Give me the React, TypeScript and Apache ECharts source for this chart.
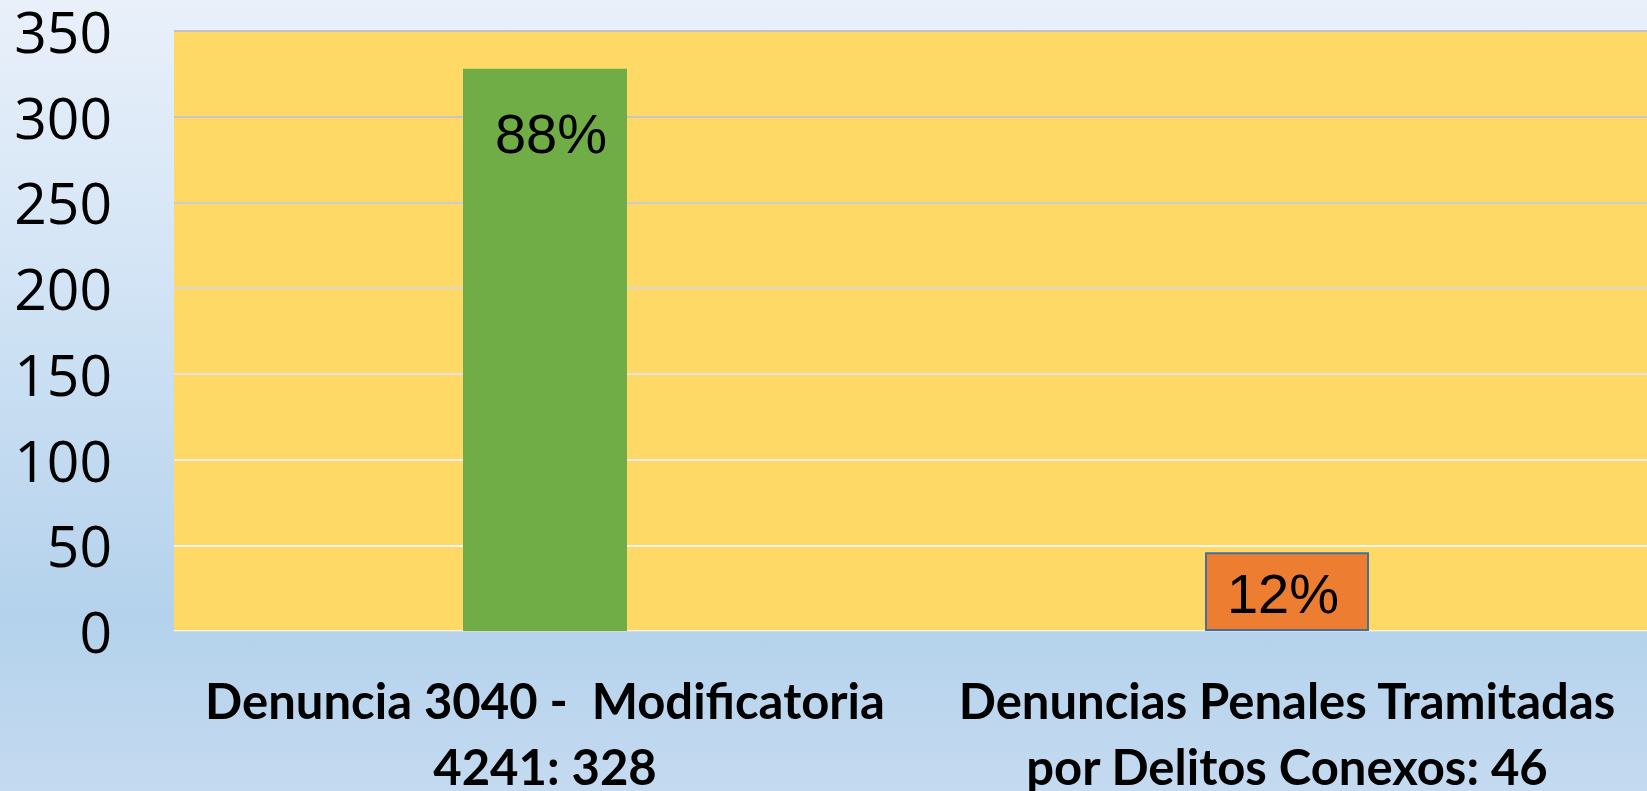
import React, { useEffect, useRef } from "react";
import * as echarts from "echarts";

const categories = [
  "Denuncia 3040 -  Modificatoria\n4241: 328",
  "Denuncias Penales Tramitadas\npor Delitos Conexos: 46",
];
const values = [328, 46];
const percentLabels = ["88%", "12%"];
const barColors = ["#70AD47", "#ED7D31"];
const yTicks = { min: 0, max: 350, interval: 50 };
const gridLineColors = ["#f4f4f4", "#f4f4f4", "#ececec", "#e2e2e2", "#d8d8d8", "#cccccc", "#c6c6c6", "#c2c2c2"];

const catFont = { fontFamily: "Lato", fontWeight: "bold", fontSize: 49, color: "#000" };

export default function App() {
  const ref = useRef<HTMLDivElement>(null);
  useEffect(() => {
    document.body.style.margin = "0";
    const chart = echarts.init(ref.current!, undefined, { renderer: "svg" });
    chart.setOption({
      animation: false,
      backgroundColor: "transparent",
      grid: {
        left: 174,
        top: 31,
        right: -11,
        bottom: 160,
        containLabel: false,
        outerBoundsMode: "none",
        show: true,
        backgroundColor: "#FFD966",
        borderWidth: 0,
      },
      xAxis: {
        type: "category",
        data: categories,
        axisLine: { show: true, lineStyle: { color: "#d9d9d9", width: 1 } },
        axisTick: { show: false },
        axisLabel: {
          interval: 0,
          margin: 28,
          ...catFont,
          formatter: (v: string) => {
            const [l1, l2] = v.split("\n");
            return `{a|${l1}}\n{b|${l2}}`;
          },
          rich: {
            a: { ...catFont, lineHeight: 82 },
            b: { ...catFont, lineHeight: 50 },
          },
        },
      },
      yAxis: {
        type: "value",
        min: yTicks.min,
        max: yTicks.max,
        interval: yTicks.interval,
        axisLine: { show: false },
        axisTick: { show: false },
        axisLabel: {
          margin: 62,
          color: "#000",
          fontFamily: "Open Sans",
          fontSize: 57,
          lineHeight: 40,
          padding: [0, 0, 6, 0],
        },
        splitLine: { show: true, lineStyle: { color: gridLineColors, width: 2 } },
      },
      series: [
        {
          type: "bar",
          barWidth: 164,
          data: values.map((v, i) => ({
            value: v,
            itemStyle: {
              color: barColors[i],
              borderColor: i === 1 ? "#41719C" : barColors[i],
              borderWidth: i === 1 ? 2 : 0,
            },
            label: {
              show: true,
              formatter: percentLabels[i],
              position: i === 0 ? "insideTop" : "inside",
              distance: 37,
              offset: i === 0 ? [6, 0] : [-4, 2],
              color: "#000",
              fontFamily: "Liberation Sans",
              fontSize: 56,
              lineHeight: 56,
            },
          })),
        },
      ],
    });
    return () => chart.dispose();
  }, []);
  return (
    <div
      ref={ref}
      style={{
        position: "absolute",
        left: 0,
        top: 0,
        width: 1647,
        height: 791,
        background: "linear-gradient(to bottom, #e9f0fa 0%, #d6e6f6 30%, #b4d2ec 78%, #c4daf0 100%)",
      }}
    />
  );
}
